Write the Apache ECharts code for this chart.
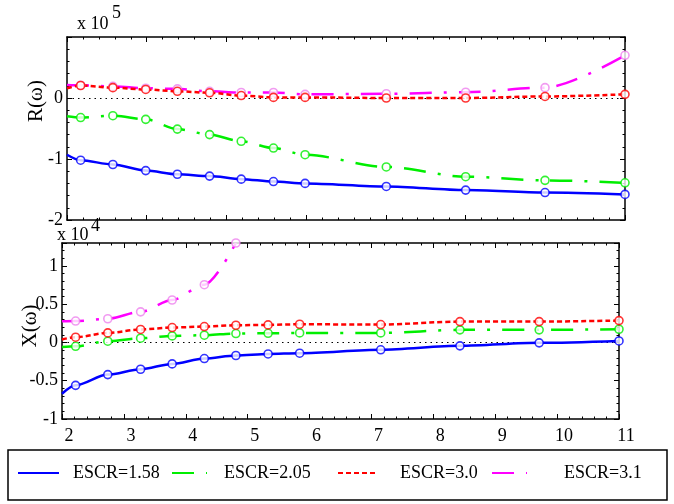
<!DOCTYPE html>
<html>
<head>
<meta charset="utf-8">
<script src="https://cdn.jsdelivr.net/npm/echarts@6/dist/echarts.min.js"></script>
<style>html,body{margin:0;padding:0;background:#fff;}#c{width:674px;height:504px;}</style>
</head>
<body>
<div id="c"></div>
<script>
// ---- data ----
const xVals = [2.0, 2.22, 2.74, 3.27, 3.78, 4.30, 4.81, 5.33, 5.84, 7.15, 8.43, 9.71, 11.0];
const seriesNames = ['ESCR=1.58', 'ESCR=2.05', 'ESCR=3.0', 'ESCR=3.1'];
// R(omega), units of 1e5
const r158 = [-0.93, -1.02, -1.09, -1.19, -1.25, -1.28, -1.33, -1.37, -1.40, -1.45, -1.51, -1.55, -1.58];
const r205 = [-0.30, -0.32, -0.29, -0.35, -0.51, -0.60, -0.71, -0.82, -0.93, -1.13, -1.29, -1.35, -1.39];
const r30  = [0.16, 0.205, 0.17, 0.14, 0.11, 0.085, 0.04, 0.01, 0.01, 0.0, 0.0, 0.025, 0.06];
const r31  = [0.215, 0.21, 0.19, 0.16, 0.15, 0.11, 0.09, 0.09, 0.06, 0.07, 0.095, 0.17, 0.70];
// X(omega), units of 1e4
const x158 = [-0.67, -0.56, -0.42, -0.35, -0.28, -0.21, -0.17, -0.15, -0.14, -0.096, -0.044, -0.005, 0.02];
const x205 = [-0.06, -0.05, 0.017, 0.056, 0.086, 0.095, 0.117, 0.12, 0.125, 0.125, 0.165, 0.165, 0.173];
const x30  = [0.04, 0.069, 0.125, 0.17, 0.195, 0.208, 0.225, 0.23, 0.238, 0.234, 0.273, 0.273, 0.286];
const x31  = [0.277, 0.28, 0.31, 0.40, 0.555, 0.755, 1.30];

// ---- styles ----
const FONT = 'Liberation Serif, Times New Roman, serif';
const colors = ['#0000ff', '#00ee00', '#ff0000', '#ff00ff'];
const markerColors = ['#0000ff', '#00ee00', '#ff0000', '#ee82ee'];
const dashTypes = ['solid', [22, 12, 3, 12], [5, 3], [22, 12, 3, 12]];

function pts(ys) { return ys.map((y, i) => [xVals[i], y]); }

function xAx(grid, pos, interval, labels) {
  return {
    type: 'value', gridIndex: grid, position: pos, min: 2, max: 11, interval: interval,
    axisLine: { show: true, onZero: false, lineStyle: { color: '#000', width: 1.5 } },
    axisTick: { show: true, inside: true, length: 5, lineStyle: { color: '#000', width: 1 } },
    minorTick: { show: true, splitNumber: 5, length: 2.5, lineStyle: { color: '#000', width: 1 } },
    splitLine: { show: false },
    axisLabel: labels ? { show: true, color: '#000', fontFamily: FONT, fontSize: 18, margin: 8, padding: [0, 0, 0, 14] } : { show: false }
  };
}
function yAx(grid, pos, min, max, interval, labels) {
  return {
    type: 'value', gridIndex: grid, position: pos, min: min, max: max, interval: interval,
    axisLine: { show: true, onZero: false, lineStyle: { color: '#000', width: 1.5 } },
    axisTick: { show: true, inside: true, length: 5, lineStyle: { color: '#000', width: 1 } },
    minorTick: { show: true, splitNumber: 5, length: 2.5, lineStyle: { color: '#000', width: 1 } },
    splitLine: { show: false },
    axisLabel: labels ? { show: true, color: '#000', fontFamily: FONT, fontSize: 18, margin: 4, showMaxLabel: false } : { show: false }
  };
}

const topData = [r158, r205, r30, r31];
const botData = [x158, x205, x30, x31];
const drawOrder = [0, 1, 3, 2];

const series = [];
function addGroup(dataSets, xi, yi) {
  drawOrder.forEach(k => {
    const s = {
      name: seriesNames[k], type: 'line', xAxisIndex: xi, yAxisIndex: yi,
      data: pts(dataSets[k]), symbol: 'none', smooth: 0.3, smoothMonotone: 'x',
      lineStyle: { color: colors[k], width: 2.5, type: dashTypes[k] },
      itemStyle: { color: colors[k] }, z: 3
    };
    if (k === 0) {
      s.markLine = {
        silent: true, symbol: ['none', 'none'], label: { show: false },
        lineStyle: { color: '#000', width: 1, type: [1.5, 4] },
        data: [{ yAxis: 0 }], z: 1
      };
    }
    series.push(s);
  });
  drawOrder.forEach(k => {
    series.push({
      name: seriesNames[k] + ' markers', type: 'scatter', xAxisIndex: xi, yAxisIndex: yi,
      data: pts(dataSets[k]).slice(1), symbol: 'circle', symbolSize: 8,
      itemStyle: { color: '#fff', borderColor: markerColors[k], borderWidth: 1.6 }, z: 4
    });
  });
}
addGroup(topData, 0, 0);
addGroup(botData, 2, 2);

const legendIconX = [17, 171, 337, 491];
const legendIconW = [41, 35, 37, 35];
const legendTextPad = [9, 12, 20, 32];
const legends = seriesNames.map((n, i) => ({
  data: [n], left: legendIconX[i], top: 464, padding: 0, orient: 'horizontal',
  itemWidth: legendIconW[i], itemHeight: 14, selectedMode: false,
  itemStyle: { opacity: 0 },
  textStyle: { color: '#000', fontFamily: FONT, fontSize: 18, padding: [0, 0, 0, legendTextPad[i]] }
}));

const option = {
  animation: false,
  backgroundColor: '#fff',
  textStyle: { fontFamily: FONT },
  grid: [
    { left: 67, top: 37, width: 558, height: 183 },
    { left: 62, top: 243, width: 557, height: 176 }
  ],
  xAxis: [
    xAx(0, 'bottom', 9 / 7, false),
    xAx(0, 'top', 9 / 7, false),
    xAx(1, 'bottom', 1, true),
    xAx(1, 'top', 1, false)
  ],
  yAxis: [
    yAx(0, 'left', -2, 1, 1, true),
    yAx(0, 'right', -2, 1, 1, false),
    yAx(1, 'left', -1, 1.3, 0.5, true),
    yAx(1, 'right', -1, 1.3, 0.5, false)
  ],
  legend: legends,
  series: series,
  graphic: [
    { type: 'rect', shape: { x: 8, y: 450, width: 659, height: 50 }, style: { fill: 'none', stroke: '#000', lineWidth: 1.5 }, z: 0 },
    { type: 'text', x: 77, y: 24, style: { text: 'x 10', fontFamily: FONT, fontSize: 18, fill: '#000', align: 'left', verticalAlign: 'middle' } },
    { type: 'text', x: 112, y: 13, style: { text: '5', fontFamily: FONT, fontSize: 18, fill: '#000', align: 'left', verticalAlign: 'middle' } },
    { type: 'text', x: 57, y: 235, style: { text: 'x 10', fontFamily: FONT, fontSize: 18, fill: '#000', align: 'left', verticalAlign: 'middle' } },
    { type: 'text', x: 91, y: 226, style: { text: '4', fontFamily: FONT, fontSize: 18, fill: '#000', align: 'left', verticalAlign: 'middle' } },
    { type: 'text', x: 36, y: 101, rotation: Math.PI / 2, style: { text: 'R(ω)', fontFamily: FONT, fontSize: 21, fill: '#000', align: 'center', verticalAlign: 'middle' } },
    { type: 'text', x: 30, y: 326, rotation: Math.PI / 2, style: { text: 'X(ω)', fontFamily: FONT, fontSize: 21, fill: '#000', align: 'center', verticalAlign: 'middle' } }
  ]
};

const chart = echarts.init(document.getElementById('c'), null, { renderer: 'canvas' });
chart.setOption(option);
</script>
</body>
</html>
